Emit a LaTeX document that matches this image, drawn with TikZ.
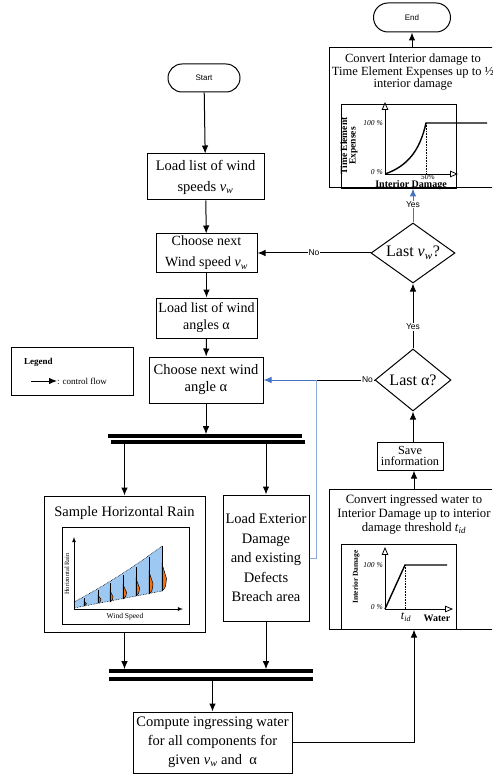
\documentclass[tikz,border=0pt]{standalone}
\usepackage{fontspec}
\setmainfont{Liberation Serif}
\newfontfamily\flowsans{Liberation Sans}
\usepackage{xcolor}
\usetikzlibrary{positioning,shapes,arrows,arrows.meta,calc}

\definecolor{flowblue}{HTML}{4472C4}
\definecolor{lightflow}{HTML}{8FAADC}
\definecolor{rainblue}{HTML}{9DC8F2}
\definecolor{rainorange}{HTML}{F2700F}

\newcommand{\windv}{\textit{v}\textsubscript{\textit{w}}}

\tikzset{
    process/.style={draw, rectangle, line width=1pt, inner sep=0pt, align=center, font=\fontsize{14.5}{19}\selectfont},
    terminal/.style={draw, rounded rectangle, line width=1pt, inner sep=0pt, font=\flowsans\fontsize{8}{9}\selectfont},
    decision/.style={draw, diamond, line width=1pt, inner sep=0pt, aspect=1.3, font=\fontsize{16}{18}\selectfont},
    forkbar/.style={fill=black, rectangle, inner sep=0pt, minimum height=3.2pt},
    flow/.style={-{Latex[length=8pt, width=6.5pt]}, line width=1pt},
    answer/.style={fill=white, inner sep=0.6pt, font=\flowsans\fontsize{8.5}{9}\selectfont},
    plotbox/.style={draw, rectangle, line width=0.7pt, inner sep=0pt},
    axis/.style={-open triangle 45, line width=0.8pt},
    tick/.style={font=\itshape\fontsize{7.5}{8}\selectfont, anchor=east, inner sep=1pt},
}

\begin{document}
\begin{tikzpicture}[x=1pt, y=-1pt]
    \useasboundingbox (0,0) rectangle (492,775);
    \clip (0,0) rectangle (492,775);

    % left column
    \node[terminal, minimum width=72pt, minimum height=28pt] (start) at (204,78) {Start};
    \node[process, minimum width=117pt, minimum height=46pt, font=\fontsize{14.5}{21}\selectfont] (loadspeeds) at (205.5,177) {Load list of wind\\speeds \windv};
    \node[process, minimum width=101pt, minimum height=38pt, font=\fontsize{14}{21}\selectfont] (nextspeed) at (206.5,253) {Choose next\\Wind speed \windv};
    \node[process, minimum width=101pt, minimum height=40pt, font=\fontsize{14}{17}\selectfont] (loadangles) at (206.5,318) {Load list of wind\\angles α};
    \node[process, minimum width=114pt, minimum height=46pt, font=\fontsize{14.5}{17}\selectfont] (nextangle) at (206,380) {Choose next wind\\angle α};

    \node[draw, rectangle, line width=0.8pt, minimum width=122pt, minimum height=48pt] (legend) at (72,371) {};
    \node[anchor=west, inner sep=0pt, font=\bfseries\fontsize{9}{10}\selectfont] (legendtitle) at (24,362) {Legend};
    \node[anchor=west, inner sep=0pt, font=\fontsize{9}{10}\selectfont] (legendflow) at (57,381) {: control flow};
    \coordinate (legendtail) at (31,381);

    \node[forkbar, minimum width=194pt] (forktopa) at (205,436) {};
    \node[forkbar, minimum width=194pt] (forktopb) at (208,442) {};

    \node[process, minimum width=161pt, minimum height=136pt] (sample) at (124.5,564) {};
    \node[font=\fontsize{14.5}{17}\selectfont] (sampletitle) at (124.5,513) {Sample Horizontal Rain};
    \node[plotbox, minimum width=127pt, minimum height=97pt] (rainplot) at (125.5,575.5) {};

    \node[process, minimum width=86pt, minimum height=126pt, font=\fontsize{14.5}{19.5}\selectfont] (exterior) at (266,558) {Load Exterior\\Damage\\and existing\\Defects\\Breach area};

    \node[forkbar, minimum width=204pt] (forkbota) at (211,671) {};
    \node[forkbar, minimum width=204pt] (forkbotb) at (211,679) {};

    \node[process, minimum width=159pt, minimum height=61pt, font=\fontsize{14.5}{19}\selectfont] (compute) at (212.5,742.5) {Compute ingressing water\\for all components for\\given \windv{} and~~α};

    % right column
    \node[terminal, minimum width=77pt, minimum height=29pt] (stop) at (412,17.5) {End};
    \node[process, minimum width=168pt, minimum height=140pt] (convtime) at (413,118) {};
    \node[align=center, inner sep=0pt, font=\fontsize{12.5}{11}\selectfont] (convtimetext) at (413,72) {Convert Interior damage to\\Time Element Expenses up to ½\\interior damage};
    \node[plotbox, minimum width=115pt, minimum height=84pt] (timeplot) at (398.5,146) {};

    \node[decision, minimum width=84pt, minimum height=60pt] (lastspeed) at (413,253) {Last \windv?};
    \node[decision, minimum width=76pt, minimum height=62pt] (lastangle) at (413,380) {Last α?};
    \node[process, minimum width=66pt, minimum height=28pt, font=\fontsize{12.3}{11.5}\selectfont] (save) at (410,456) {Save\\information};

    \node[process, minimum width=170pt, minimum height=140pt] (convwater) at (414,559) {};
    \node[align=center, inner sep=0pt, font=\fontsize{12.7}{14}\selectfont] (convwatertext) at (414,514) {Convert ingressed water to\\Interior Damage up to interior\\damage threshold \textit{t}\textsubscript{\textit{id}}};
    \node[plotbox, minimum width=115pt, minimum height=85pt] (damageplot) at (398.5,586.5) {};

    \coordinate (merge) at (316,380);

    % control flow
    \draw[flow] (legendtail) -- (legendflow.west);
    \draw[flow] (start) -- (loadspeeds);
    \draw[flow] (loadspeeds) -- (nextspeed);
    \draw[flow] (nextspeed) -- (loadangles);
    \draw[flow] (loadangles) -- (nextangle);
    \draw[flow] (nextangle) -- (nextangle |- forktopa.north);
    \draw[flow] (sample.north |- forktopb.south) -- (sample);
    \draw[flow] (exterior.north |- forktopb.south) -- (exterior);
    \draw[flow] (sample) -- (sample.south |- forkbota.north);
    \draw[flow] (exterior) -- (exterior.south |- forkbota.north);
    \draw[flow] (compute.north |- forkbotb.south) -- (compute);
    \draw[flow] (compute) -| (convwater);
    \draw[flow] (convwater) -- (convwater.north |- save.south);
    \draw[flow] (save.north -| lastangle) -- (lastangle);
    \draw[flow] (lastangle) -- node[answer, pos=0.33] {Yes} (lastspeed);
    \draw[flow, flowblue] (lastspeed) -- node[answer, pos=0.54, text=black] {Yes} (lastspeed |- convtime.south);
    \draw[flow] (convtime.north -| stop) -- (stop);
    \draw[flow] (lastspeed) -- node[answer] {No} (nextspeed);
    \draw[line width=1pt] (lastangle) -- node[answer, pos=0.12] {No} (merge);
    \draw[flow, flowblue] (merge) -- (nextangle);
    \draw[line width=1pt, lightflow] (exterior) -| (merge);

    % horizontal rain plot
    \fill[rainblue] (74,608) -- (162,591) -- (162,546) .. controls (130,570) and (100,588) .. (74,602) -- cycle;
    \draw[densely dotted, line width=0.6pt] (162,546) .. controls (130,570) and (100,588) .. (74,602);
    \draw[densely dotted, line width=0.6pt] (74,608) -- (162,591);
    \foreach \x/\t/\b/\w in {84/598/606/2.5, 98/590/603/3, 110/583/602/3, 123/575/599/3.5, 136/567/596/3.5, 149/557/594/4, 162/546/591/4.5} {
        \filldraw[fill=rainorange, draw=black, line width=0.5pt] (\x,{\t+0.4*(\b-\t)}) .. controls ({\x+0.5*\w},{\t+0.55*(\b-\t)}) .. ({\x+\w},{\t+0.72*(\b-\t)}) .. controls ({\x+0.8*\w},{\t+0.92*(\b-\t)}) .. (\x,\b) -- cycle;
        \draw[line width=0.8pt] (\x,\t) -- (\x,\b);
    }
    \draw[-latex, line width=0.8pt] (74,609) -- (74,537);
    \draw[-latex, line width=0.8pt] (74,609) -- (183,609);
    \node[rotate=90, inner sep=0pt, font=\fontsize{6.5}{7}\selectfont] (rainlabel) at (67,574) {Horizontal Rain};
    \node[inner sep=0pt, font=\fontsize{7.5}{8}\selectfont] (speedlabel) at (125,617) {Wind Speed};

    % time element plot
    \draw[axis] (385,174) -- (385,102);
    \draw[axis] (385,174) -- (458,174);
    \draw[line width=1.4pt] (385,174) .. controls (408,166) and (420,150) .. (426,123) -- (487,123);
    \draw[densely dotted, line width=0.6pt] (426,123) -- (426,174);
    \node[tick] (timetop) at (384,123) {100 \%};
    \node[tick] (timezero) at (384,172) {0 \%};
    \node[inner sep=0pt, font=\itshape\fontsize{7.5}{8}\selectfont] (timehalf) at (428,177.5) {50\%};
    \node[rotate=90, align=center, inner sep=0pt, font=\bfseries\fontsize{9.5}{8.5}\selectfont] (timeaxis) at (349,146) {Time Element\\Expenses};
    \node[inner sep=0pt, font=\bfseries\fontsize{10}{10}\selectfont] (timedamage) at (411,185.5) {Interior Damage};

    % interior damage plot
    \draw[axis] (385,609) -- (385,547);
    \draw[axis] (385,609) -- (453,609);
    \draw[line width=1.4pt] (385,609) -- (405,565) -- (447,565);
    \draw[densely dotted, line width=0.6pt] (405,565) -- (405,609);
    \node[tick] (damagetop) at (384,565) {100 \%};
    \node[tick] (damagezero) at (384,607) {0 \%};
    \node[inner sep=0pt, font=\fontsize{12}{12}\selectfont] (damagetid) at (406,617) {\textit{t}\textsubscript{\textit{id}}};
    \node[inner sep=0pt, font=\bfseries\fontsize{10}{10}\selectfont] (damagewater) at (437,618) {Water};
    \node[rotate=90, inner sep=0pt, font=\bfseries\fontsize{7.5}{8}\selectfont] (damageaxis) at (356,577) {Interior Damage};
\end{tikzpicture}
\end{document}
